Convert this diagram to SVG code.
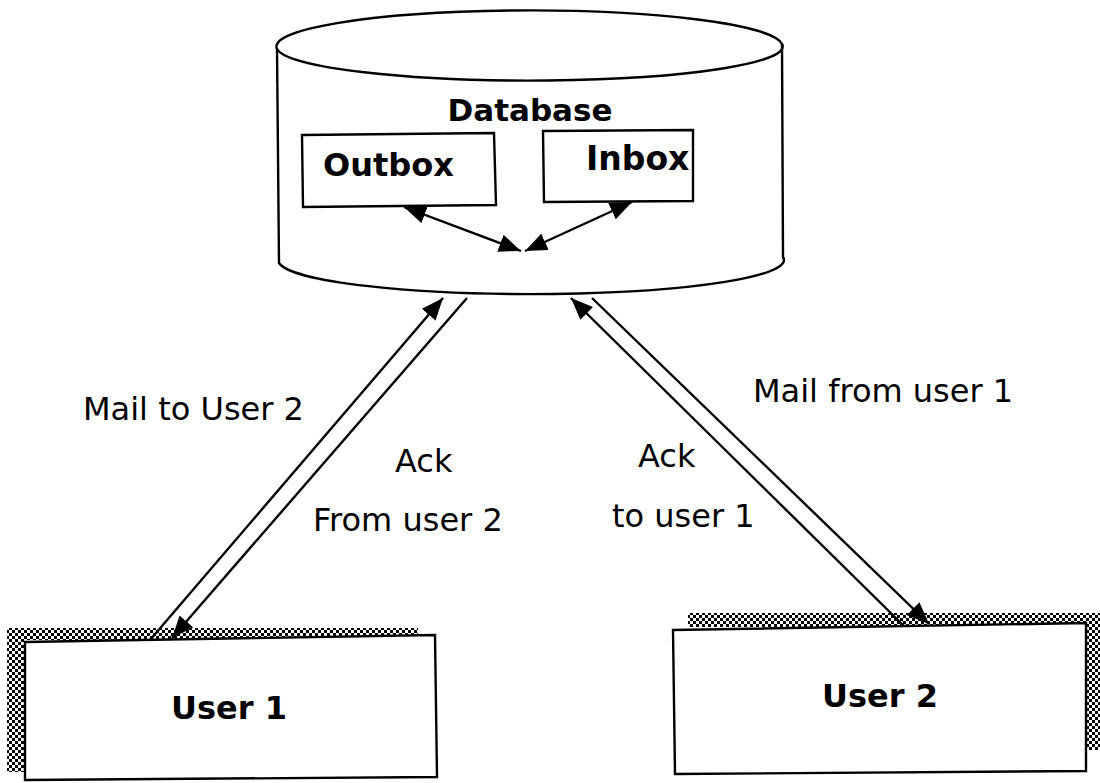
<svg xmlns="http://www.w3.org/2000/svg" width="1100" height="783" viewBox="0 0 1100 783">
  <style>
    .box { fill: #fff; stroke: #000; stroke-width: 2.4; stroke-linejoin: miter; }
    .line { stroke: #000; stroke-width: 2.4; fill: none; }
    .title { font-family: "DejaVu Sans", Verdana, sans-serif; font-weight: bold; font-size: 32px; fill: #000; }
    .label { font-family: "DejaVu Sans", Verdana, sans-serif; font-size: 32px; fill: #000; }
    .shade { fill: url(#dither); }
  </style>
  <defs>
    <!-- checker used for the drop shadows of the user boxes -->
    <pattern id="dither" width="6" height="6" patternUnits="userSpaceOnUse">
      <rect width="6" height="6" fill="#fff"/>
      <rect x="0" y="0" width="3" height="3" fill="#000"/>
      <rect x="3" y="3" width="3" height="3" fill="#000"/>
    </pattern>
    <marker id="head" viewBox="0 0 22 18" refX="22" refY="9" markerWidth="22" markerHeight="18" markerUnits="userSpaceOnUse" orient="auto-start-reverse">
      <path d="M0,0 L22,9 L0,18 z" fill="#000"/>
    </marker>
  </defs>

  <rect width="1100" height="783" fill="#fff"/>

  <!-- database cylinder -->
  <g id="database">
    <path class="box" d="M277,49 L279,263 A252,34 0 0 0 783,257 L782,44 A252.5,36 0 0 0 277,49 Z"/>
    <path class="box" style="fill:none" d="M277,49 A252.5,34 0 0 0 782,44"/>
    <text class="title" x="530" y="121" text-anchor="middle" style="font-size:31px">Database</text>
  </g>

  <g id="outbox">
    <path class="box" d="M302,135 L494,133 L496,205 L303,207 Z"/>
    <text class="title" x="323" y="176">Outbox</text>
  </g>

  <g id="inbox">
    <path class="box" d="M543,131 L693,130 L693,201 L544,202 Z"/>
    <text class="title" x="586" y="170" style="font-size:33px">Inbox</text>
  </g>

  <g id="user1">
    <rect class="shade" x="7" y="628" width="411" height="12"/>
    <rect class="shade" x="7" y="628" width="18" height="144"/>
    <path class="box" d="M25,642 L435,635 L437,777 L25,780 Z"/>
    <text class="title" x="229" y="719" text-anchor="middle">User 1</text>
  </g>

  <g id="user2">
    <rect class="shade" x="688" y="613" width="412" height="14"/>
    <rect class="shade" x="1086" y="613" width="14" height="137"/>
    <path class="box" d="M673,630 L1086,623 L1086,771 L675,774 Z"/>
    <text class="title" x="880" y="707" text-anchor="middle">User 2</text>
  </g>

  <!-- message flows -->
  <g id="connectors">
    <line class="line" x1="404" y1="207" x2="521" y2="251" marker-start="url(#head)" marker-end="url(#head)"/>
    <line class="line" x1="632" y1="202" x2="525" y2="251" marker-start="url(#head)" marker-end="url(#head)"/>
    <line class="line" x1="150" y1="640" x2="443" y2="298" marker-end="url(#head)"/>
    <line class="line" x1="467" y1="298" x2="172" y2="638" marker-end="url(#head)"/>
    <line class="line" x1="904" y1="626" x2="571" y2="298" marker-end="url(#head)"/>
    <line class="line" x1="592" y1="298" x2="929" y2="624" marker-end="url(#head)"/>
  </g>

  <g id="labels">
    <text class="label" x="83" y="420">Mail to User 2</text>
    <text class="label" x="395" y="472">Ack</text>
    <text class="label" x="313" y="531">From user 2</text>
    <text class="label" x="638" y="467">Ack</text>
    <text class="label" x="612" y="527">to user 1</text>
    <text class="label" x="753" y="402">Mail from user 1</text>
  </g>
</svg>
